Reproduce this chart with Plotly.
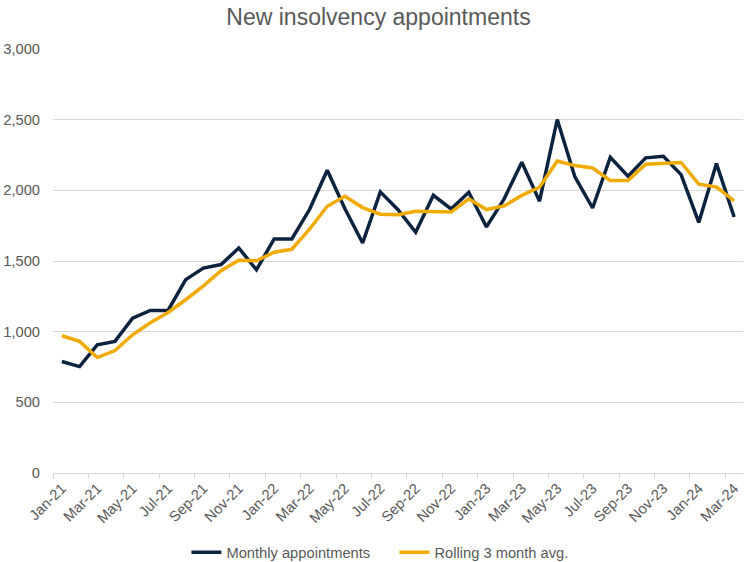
import plotly.graph_objects as go

months = ["Jan-21", "Feb-21", "Mar-21", "Apr-21", "May-21", "Jun-21", "Jul-21", "Aug-21", "Sep-21", "Oct-21",
          "Nov-21", "Dec-21", "Jan-22", "Feb-22", "Mar-22", "Apr-22", "May-22", "Jun-22", "Jul-22", "Aug-22",
          "Sep-22", "Oct-22", "Nov-22", "Dec-22", "Jan-23", "Feb-23", "Mar-23", "Apr-23", "May-23", "Jun-23",
          "Jul-23", "Aug-23", "Sep-23", "Oct-23", "Nov-23", "Dec-23", "Jan-24", "Feb-24", "Mar-24"]

monthly = [789, 753, 907, 931, 1096, 1150, 1150, 1368, 1450, 1475,
           1592, 1438, 1656, 1656, 1864, 2142, 1870, 1627, 1989, 1863,
           1703, 1965, 1868, 1986, 1741, 1940, 2199, 1923, 2501, 2095,
           1875, 2234, 2100, 2230, 2241, 2111, 1773, 2189, 1811]

rolling = [971, 931, 817, 866, 978, 1063, 1136, 1226, 1324, 1431,
           1506, 1502, 1562, 1583, 1725, 1887, 1958, 1878, 1831, 1827,
           1852, 1846, 1846, 1940, 1864, 1890, 1964, 2022, 2207, 2175,
           2158, 2069, 2070, 2185, 2192, 2197, 2044, 2024, 1926]

y_ticks = [0, 500, 1000, 1500, 2000, 2500, 3000]

idx = list(range(len(months)))
label_idx = idx[::2]
label_text = months[::2]
boundaries = [i - 0.5 for i in label_idx]

NAVY = "#0C2340"
GOLD = "#F0AB00"
TXT = "#595959"
GRID = "#D9D9D9"
FONT = "Liberation Sans, Arial, sans-serif"

W, H = 747, 562

fig = go.Figure()
fig.add_trace(go.Scatter(x=idx, y=monthly, mode="lines", name="Monthly appointments",
                         line=dict(color=NAVY, width=3.5)))
fig.add_trace(go.Scatter(x=idx, y=rolling, mode="lines", name="Rolling 3 month avg.",
                         line=dict(color=GOLD, width=3.5)))

fig.update_layout(
    width=W, height=H,
    margin=dict(l=53, r=4, t=49, b=89, autoexpand=False),
    paper_bgcolor="white", plot_bgcolor="white",
    font=dict(family=FONT, color=TXT, size=14.7),
    title=dict(text="New insolvency appointments", x=0.5067, xanchor="center",
               y=1 - 17 / H, yanchor="middle", font=dict(size=23, color=TXT, family=FONT)),
    showlegend=True,
    legend=dict(orientation="h", x=0.1934, xanchor="left", y=-0.188, yanchor="middle",
                font=dict(size=14.7, color=TXT), itemwidth=30, entrywidth=163, bgcolor="rgba(0,0,0,0)"),
    xaxis=dict(range=[-0.5, len(months) - 0.5], tickmode="array", tickvals=label_idx, ticktext=label_text,
               tickangle=-45, ticks="", showgrid=False, zeroline=False, automargin=False,
               showline=True, linecolor=GRID, linewidth=1,
               tickfont=dict(size=14.7, color=TXT),
               minor=dict(tickmode="array", tickvals=boundaries, ticks="outside", ticklen=5,
                          tickcolor=GRID, tickwidth=1, showgrid=False)),
    yaxis=dict(range=[0, 3000], tickmode="array", tickvals=y_ticks, tickformat=",",
               showgrid=True, gridcolor=GRID, gridwidth=1, zeroline=False, showline=False,
               automargin=False,
               ticks="", ticklabelstandoff=12, tickfont=dict(size=14.7, color=TXT)),
)

fig.write_html("out.html", config={"displayModeBar": False},
               post_script="document.body.style.margin='0';")
